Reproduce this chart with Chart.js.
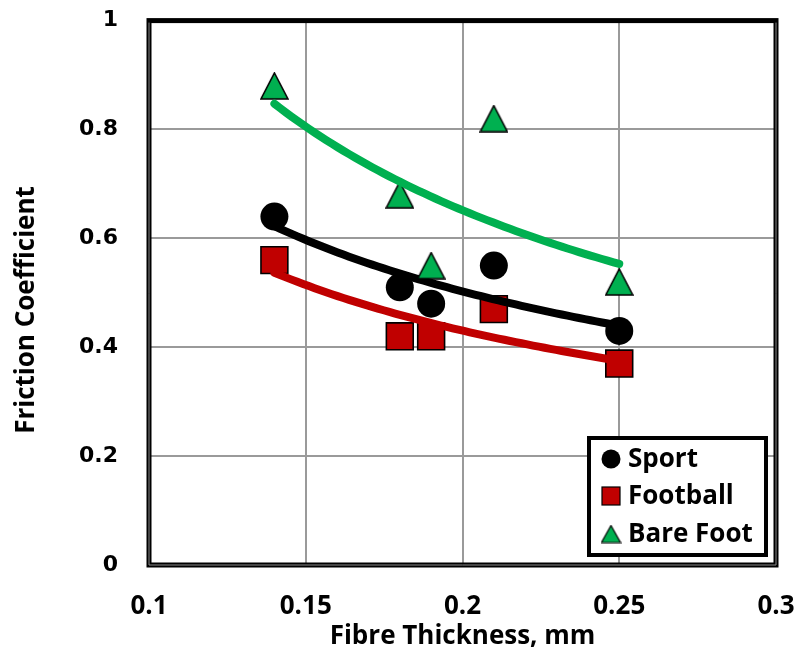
<!DOCTYPE html>
<html>
<head>
<meta charset="utf-8">
<script src="https://cdn.jsdelivr.net/npm/chart.js@4.4.0/dist/chart.umd.min.js"></script>
<style>
  html, body { margin: 0; padding: 0; background: #fff; }
  #wrap { width: 798px; height: 653px; }
</style>
</head>
<body>
<div id="wrap"><canvas id="c" width="798" height="653"></canvas></div>
<script>
// Measured friction coefficients for three contact types vs fibre thickness
const thickness = [0.14, 0.18, 0.19, 0.21, 0.25];
const sport     = [0.64, 0.51, 0.48, 0.55, 0.43];
const football  = [0.56, 0.42, 0.42, 0.47, 0.37];
const bareFoot  = [0.88, 0.68, 0.55, 0.82, 0.52];
const seriesNames = ['Sport', 'Football', 'Bare Foot'];
const xTicks = [0.1, 0.15, 0.2, 0.25, 0.3];
const yTicks = [0, 0.2, 0.4, 0.6, 0.8, 1];
const xTitle = 'Fibre Thickness, mm';
const yTitle = 'Friction Coefficient';

const GREEN = '#00B050';
const RED = '#C00000';
const BOLD_FONT = '"Open Sans", "DejaVu Sans", sans-serif';

// Power-law trend y = a * x^b, least squares in log-log space
function powerFit(xs, ys) {
  const lx = xs.map(Math.log), ly = ys.map(Math.log);
  const n = xs.length;
  const mx = lx.reduce((s, v) => s + v, 0) / n;
  const my = ly.reduce((s, v) => s + v, 0) / n;
  let sxy = 0, sxx = 0;
  for (let i = 0; i < n; i++) {
    sxy += (lx[i] - mx) * (ly[i] - my);
    sxx += (lx[i] - mx) * (lx[i] - mx);
  }
  const b = sxy / sxx;
  const a = Math.exp(my - b * mx);
  return { a, b };
}
function trendCurve(xs, ys) {
  const { a, b } = powerFit(xs, ys);
  const x0 = Math.min(...xs), x1 = Math.max(...xs);
  const pts = [];
  const steps = 60;
  for (let i = 0; i <= steps; i++) {
    const x = x0 + (x1 - x0) * i / steps;
    pts.push({ x, y: a * Math.pow(x, b) });
  }
  return pts;
}
const toPoints = ys => thickness.map((x, i) => ({ x, y: ys[i] }));

// Triangle marker centred in its box
function triangleMarker(w, h, fill, lw) {
  const c = document.createElement('canvas');
  c.width = w + 2; c.height = h + 2;
  const g = c.getContext('2d');
  g.beginPath();
  g.moveTo((w + 2) / 2, 1);
  g.lineTo(w + 1, h + 1);
  g.lineTo(1, h + 1);
  g.closePath();
  g.fillStyle = fill; g.fill();
  g.lineWidth = lw; g.strokeStyle = '#000'; g.lineJoin = 'miter'; g.stroke();
  return c;
}
const triBig = triangleMarker(27, 26, GREEN, 1.6);

function trendDataset(pts, color, order) {
  return {
    type: 'scatter', data: pts, showLine: true, pointRadius: 0, pointHoverRadius: 0,
    borderColor: color, borderWidth: 8, borderCapStyle: 'round', borderJoinStyle: 'round',
    fill: false, order
  };
}

// Fixed axis footprints so the plot area sits where it should
function fixScale(s, size) {
  if (s.isHorizontal()) s.height = size; else s.width = size;
  s.paddingTop = 0; s.paddingBottom = 0; s.paddingLeft = 0; s.paddingRight = 0;
}

// Plot frame: thick black border with a grey inner stripe on left/right/bottom
const framePlugin = {
  id: 'frame',
  beforeDatasetsDraw(chart) {
    const { ctx, chartArea: a } = chart;
    ctx.save();
    ctx.strokeStyle = '#000';
    ctx.lineWidth = 5;
    ctx.strokeRect(a.left, a.top, a.right - a.left, a.bottom - a.top);
    ctx.strokeStyle = '#8a8a8a';
    ctx.lineWidth = 1;
    ctx.beginPath();
    ctx.moveTo(a.left, a.top + 2);
    ctx.lineTo(a.left, a.bottom);
    ctx.lineTo(a.right, a.bottom);
    ctx.lineTo(a.right, a.top + 2);
    ctx.stroke();
    ctx.restore();
  }
};

// Vertical axis title, set slightly below the plot's mid-height
const yTitlePlugin = {
  id: 'yTitle',
  afterDraw(chart) {
    const { ctx } = chart;
    ctx.save();
    ctx.translate(27, 310);
    ctx.rotate(-Math.PI / 2);
    ctx.fillStyle = '#000';
    ctx.font = '700 26px ' + BOLD_FONT;
    ctx.textAlign = 'center';
    ctx.textBaseline = 'middle';
    ctx.fillText(yTitle, 0, 0);
    ctx.restore();
  }
};

// Boxed legend in the lower-right corner of the plot
const legendPlugin = {
  id: 'boxLegend',
  afterDraw(chart) {
    const { ctx } = chart;
    const box = { x: 589, y: 438, w: 177, h: 117 };
    ctx.save();
    ctx.fillStyle = '#fff';
    ctx.fillRect(box.x, box.y, box.w, box.h);
    ctx.strokeStyle = '#000';
    ctx.lineWidth = 4;
    ctx.strokeRect(box.x, box.y, box.w, box.h);
    const rows = [459, 496, 534];
    const mx = 611;
    // Sport: circle
    ctx.beginPath();
    ctx.arc(mx, rows[0], 9.5, 0, Math.PI * 2);
    ctx.fillStyle = '#000'; ctx.fill();
    // Football: square
    ctx.fillStyle = RED;
    ctx.fillRect(mx - 9, rows[1] - 9, 18, 18);
    ctx.lineWidth = 1.2; ctx.strokeStyle = '#000';
    ctx.strokeRect(mx - 9, rows[1] - 9, 18, 18);
    // Bare Foot: triangle
    const tri = triangleMarker(19, 17, GREEN, 1.2);
    ctx.drawImage(tri, mx - tri.width / 2, rows[2] - tri.height / 2);
    ctx.fillStyle = '#000';
    ctx.font = '700 26px ' + BOLD_FONT;
    ctx.textBaseline = 'middle';
    ctx.textAlign = 'left';
    seriesNames.forEach((name, i) => ctx.fillText(name, 628, rows[i] + 1));
    ctx.restore();
  }
};

new Chart(document.getElementById('c'), {
  type: 'scatter',
  data: {
    datasets: [
      { label: seriesNames[1], data: toPoints(football), pointStyle: 'rect', pointRadius: 19,
        backgroundColor: RED, borderColor: '#000', borderWidth: 1.6, order: 6 },
      trendDataset(trendCurve(thickness, football), RED, 5),
      { label: seriesNames[0], data: toPoints(sport), pointStyle: 'circle', pointRadius: 14,
        backgroundColor: '#000', borderColor: '#000', borderWidth: 0, order: 4 },
      trendDataset(trendCurve(thickness, sport), '#000', 3),
      { label: seriesNames[2], data: toPoints(bareFoot), pointStyle: triBig, pointRadius: 14,
        backgroundColor: GREEN, borderColor: '#000', order: 2 },
      trendDataset(trendCurve(thickness, bareFoot), GREEN, 1)
    ]
  },
  options: {
    responsive: false,
    animation: false,
    devicePixelRatio: 1,
    layout: { padding: { top: 16, right: 22, left: 0, bottom: 0 } },
    plugins: { legend: { display: false }, tooltip: { enabled: false } },
    scales: {
      x: {
        type: 'linear', min: 0.1, max: 0.3,
        afterBuildTicks: s => { s.ticks = xTicks.map(v => ({ value: v })); },
        afterFit: s => fixScale(s, 88),
        grid: { color: '#9a9a9a', lineWidth: 2, drawTicks: false },
        border: { display: false },
        ticks: { padding: 26, color: '#000', maxRotation: 0,
          font: { family: BOLD_FONT, weight: '700', size: 26 },
          callback: v => String(v) },
        title: { display: true, text: xTitle, color: '#000',
          font: { family: BOLD_FONT, weight: '700', size: 26 },
          padding: { top: 0, bottom: 1 } }
      },
      y: {
        type: 'linear', min: 0, max: 1,
        afterBuildTicks: s => { s.ticks = yTicks.map(v => ({ value: v })); },
        afterFit: s => fixScale(s, 149),
        grid: { color: '#9a9a9a', lineWidth: 2, drawTicks: false },
        border: { display: false },
        ticks: { padding: 31, color: '#000',
          font: { family: '"DejaVu Sans", Verdana, sans-serif', weight: '700', size: 22 },
          callback: v => String(v) },
        title: { display: false }
      }
    }
  },
  plugins: [framePlugin, yTitlePlugin, legendPlugin]
});
</script>
</body>
</html>
